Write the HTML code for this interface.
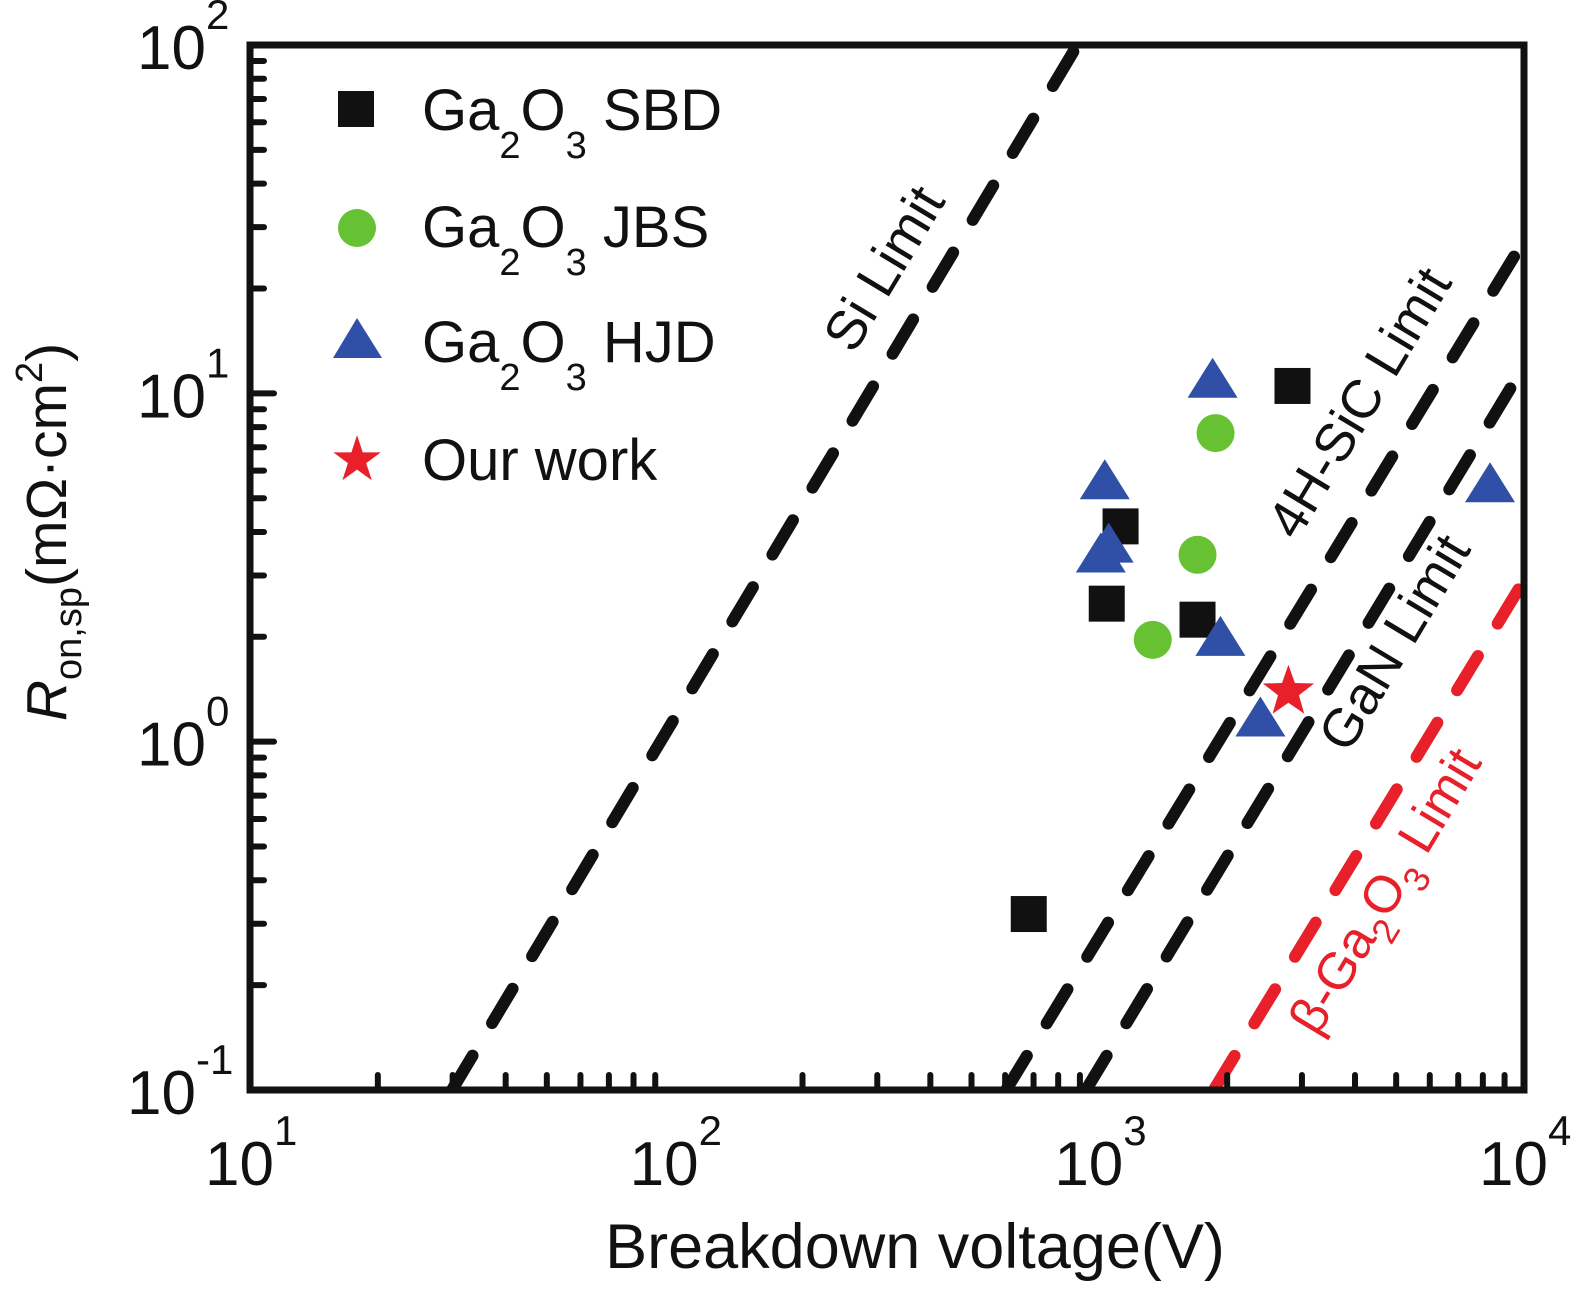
<!DOCTYPE html>
<html><head><meta charset="utf-8"><style>
html,body{margin:0;padding:0;background:#fff;}
svg{display:block;font-family:"Liberation Sans","DejaVu Sans",sans-serif;}
</style></head><body>
<svg id="chart" width="1575" height="1291" viewBox="0 0 1575 1291" xmlns="http://www.w3.org/2000/svg">
<defs><clipPath id="plotclip"><rect x="250" y="45" width="1274" height="1045"/></clipPath></defs>
<g id="limits" clip-path="url(#plotclip)"></g>
<g id="ticks"></g>
<rect x="250" y="45" width="1274" height="1045" fill="none" stroke="#111" stroke-width="7"/>
<g id="marks"></g>
<g id="labels"></g>

<text transform="translate(900,278) rotate(-59)" text-anchor="middle" font-size="55" fill="#111">Si Limit</text>
<text transform="translate(1375,412) rotate(-59)" text-anchor="middle" font-size="54" fill="#111">4H-SiC Limit</text>
<text transform="translate(1410,652) rotate(-59)" text-anchor="middle" font-size="54" fill="#111">GaN Limit</text>
<text transform="translate(1400,900) rotate(-59)" text-anchor="middle" font-size="52" fill="#e8202a">β-Ga<tspan font-size="36" dy="16">2</tspan><tspan dy="-16">O</tspan><tspan font-size="36" dy="16">3</tspan><tspan dy="-16"> Limit</tspan></text>

<g font-size="58" fill="#111">
 <rect x="338" y="91" width="36" height="36" fill="#111"/>
 <text x="422" y="130">Ga<tspan font-size="38" dy="28">2</tspan><tspan dy="-28">O</tspan><tspan font-size="38" dy="28">3</tspan><tspan dy="-28"> SBD</tspan></text>
 <circle cx="357" cy="228" r="19" fill="#66c232"/>
 <text x="422" y="247">Ga<tspan font-size="38" dy="28">2</tspan><tspan dy="-28">O</tspan><tspan font-size="38" dy="28">3</tspan><tspan dy="-28"> JBS</tspan></text>
 <polygon points="357,318 382,358 333,358" fill="#3050a8"/>
 <text x="422" y="362">Ga<tspan font-size="38" dy="28">2</tspan><tspan dy="-28">O</tspan><tspan font-size="38" dy="28">3</tspan><tspan dy="-28"> HJD</tspan></text>
 <text x="357" y="480" text-anchor="middle" font-size="62" fill="#e8202a">★</text>
 <text x="422" y="480">Our work</text>
</g>

<text x="915" y="1268" text-anchor="middle" font-size="63" fill="#111">Breakdown voltage(V)</text>
<text transform="translate(66,532) rotate(-90)" text-anchor="middle" font-size="57" fill="#111"><tspan font-style="italic">R</tspan><tspan font-size="38" dy="15">on,sp</tspan><tspan dy="-15">(mΩ·cm</tspan><tspan font-size="38" dy="-24">2</tspan><tspan dy="24">)</tspan></text>
</svg>
<script>
const xDecades=[1,2,3,4];
const yDecades=[-1,0,1,2];
const sbdV=[682,1041,1122,1703,2850];
const sbdR=[0.32,2.49,4.15,2.24,10.5];
const jbsV=[1878,1703,1336];
const jbsR=[7.69,3.44,1.96];
const hjdV=[1848,1030,1052,1008,1928,2395,8318];
const hjdR=[10.8,5.52,3.63,3.40,1.96,1.15,5.41];
const starV=[2788];
const starR=[1.39];
const limitNames=["si","sic","gan","ga2o3"];
const limitV0=[29.9,603,930,1860];
const limitR0=[0.1,0.1,0.1,0.1];
const limitV1=[870,10000,10000,9800];
const limitR1=[96,27.5,12.0,2.79];

const X0=250,X1=1524,Y0=1090,Y1=45;
const sx=v=>X0+(Math.log10(v)-1)/3*(X1-X0);
const sy=r=>Y0-(Math.log10(r)+1)/3*(Y0-Y1);
const NS="http://www.w3.org/2000/svg";
function mk(tag,attrs,parent){const e=document.createElementNS(NS,tag);for(const k in attrs)e.setAttribute(k,attrs[k]);parent.appendChild(e);return e;}
const gT=document.getElementById('ticks'),gL=document.getElementById('labels'),gM=document.getElementById('marks'),gLim=document.getElementById('limits');

limitNames.forEach((n,i)=>{
 const l=mk('line',{x1:sx(limitV0[i]),y1:sy(limitR0[i]),x2:sx(limitV1[i]),y2:sy(limitR1[i]),stroke:n==='ga2o3'?'#e8202a':'#111','stroke-width':12,'stroke-linecap':'round','stroke-dasharray':'40 38'},gLim);
 
 
});

for(let d=1;d<4;d++){for(let m=2;m<10;m++){const v=m*Math.pow(10,d);const x=sx(v);
 const t=mk('line',{x1:x,y1:Y0,x2:x,y2:Y0-15,stroke:'#111','stroke-width':6,'stroke-linecap':'round'},gT);
 
 }}
for(let d=-1;d<2;d++){for(let m=1;m<10;m++){const r=m*Math.pow(10,d);const y=sy(r);
 const len=(m===1)?24:14;
 if(m===1&&d===-1)continue;
 const t=mk('line',{x1:X0,y1:y,x2:X0+len,y2:y,stroke:'#111','stroke-width':6,'stroke-linecap':'round'},gT);
 
 }}

xDecades.forEach(d=>{
 const t=mk('text',{x:sx(Math.pow(10,d))-45,y:1185,'font-size':62,fill:'#111'},gL);
 t.innerHTML='10<tspan font-size="42" dy="-40">'+d+'</tspan>';
 
 
});
yDecades.forEach(d=>{
 const t=mk('text',{x:137-(d<0?10:0),y:sy(Math.pow(10,d))+24,'font-size':62,fill:'#111'},gL);
 t.innerHTML='10<tspan font-size="42" dy="-40">'+(d<0?'-':'')+Math.abs(d)+'</tspan>';
 
 
});

sbdV.forEach((v,i)=>{const x=sx(v),y=sy(sbdR[i]);
 const e=mk('rect',{x:x-18,y:y-18,width:36,height:36,fill:'#111'},gM);
 
 });
jbsV.forEach((v,i)=>{const x=sx(v),y=sy(jbsR[i]);
 const e=mk('circle',{cx:x,cy:y,r:19,fill:'#66c232'},gM);
 
 });
hjdV.forEach((v,i)=>{const x=sx(v),y=sy(hjdR[i]);
 const e=mk('polygon',{points:`${x},${y-24} ${x+25},${y+16} ${x-25},${y+16}`,fill:'#3050a8'},gM);
 
 });
starV.forEach((v,i)=>{const x=sx(v),y=sy(starR[i]);
 const pts=[];for(let k=0;k<10;k++){const a=-Math.PI/2+k*Math.PI/5;const rr=k%2?11:27;pts.push((x+rr*Math.cos(a)).toFixed(1)+','+(y+rr*Math.sin(a)).toFixed(1));}
 const e=mk('polygon',{points:pts.join(' '),fill:'#e8202a'},gM);
 
 });
</script>
</body></html>
